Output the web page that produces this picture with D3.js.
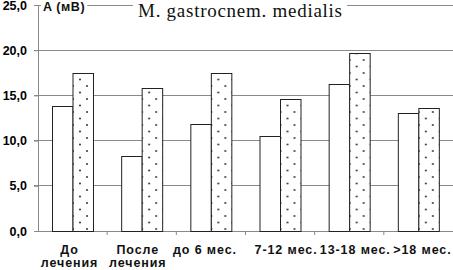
<!DOCTYPE html>
<html>
<head>
<meta charset="utf-8">
<script src="https://cdn.jsdelivr.net/npm/d3@7"></script>
<style>
  body { margin: 0; background: #fff; }
  svg { display: block; }
  .tick text { font-family: Arial, "Liberation Sans", sans-serif; font-weight: bold; fill: #000; }
</style>
</head>
<body>
<svg id="chart"></svg>
<script>
// categories (second line after "|")
const categories = ['До|лечения', 'После|лечения', 'до 6 мес.', '7-12 мес.', '13-18 мес.', '>18 мес.'];
const seriesNames = ['s1', 's2'];
const valuesPlain = [13.8, 8.3, 11.8, 10.5, 16.3, 13.0];
const valuesDotted = [17.5, 15.8, 17.5, 14.6, 19.7, 13.6];
const yTicks = [0, 5, 10, 15, 20, 25];
const yLabel = 'A (мВ)';
const title = 'M. gastrocnem. medialis';

const width = 453, height = 270;
const margin = {top: 5, right: 0, bottom: 39, left: 38};
const innerW = width - margin.left - margin.right;
const innerH = height - margin.top - margin.bottom;

const svg = d3.select('#chart').attr('width', width).attr('height', height);

// dot fill for second series
const defs = svg.append('defs');
const pat = defs.append('pattern')
    .attr('id', 'dots')
    .attr('patternUnits', 'userSpaceOnUse')
    .attr('width', 14).attr('height', 13);
pat.append('rect').attr('width', 14).attr('height', 13).attr('fill', '#fff');
pat.append('circle').attr('cx', 7).attr('cy', 3).attr('r', 1.1).attr('fill', '#444');
pat.append('circle').attr('cx', 0).attr('cy', 9.5).attr('r', 1.1).attr('fill', '#444');
pat.append('circle').attr('cx', 14).attr('cy', 9.5).attr('r', 1.1).attr('fill', '#444');

const chart = svg.append('g').attr('transform', `translate(${margin.left},${margin.top})`);

const x0 = d3.scaleBand().domain(categories).range([0, innerW]).padding(0);
const x1 = d3.scaleBand().domain(seriesNames).range([14, 55]).padding(0);
const y = d3.scaleLinear().domain([0, 25]).range([innerH, 0]);

// gridlines
chart.append('g')
  .selectAll('line')
  .data(yTicks.filter(d => d > 0))
  .join('line')
    .attr('x1', -4).attr('x2', innerW)
    .attr('y1', d => y(d)).attr('y2', d => y(d))
    .attr('stroke', '#8a8a8a').attr('stroke-width', 1)
    .attr('shape-rendering', 'crispEdges');

// y axis
const yAxis = d3.axisLeft(y).tickValues(yTicks).tickSize(4).tickPadding(7)
    .tickFormat(d => d3.format('.1f')(d).replace('.', ','));
const yG = chart.append('g').call(yAxis);
yG.select('.domain').attr('stroke', '#8a8a8a');
yG.selectAll('.tick line').attr('stroke', '#8a8a8a');
yG.selectAll('.tick text').style('font-size', '12.5px');

// x axis: ticks at band edges
const xG = chart.append('g').attr('transform', `translate(0,${innerH})`);
xG.append('line').attr('x1', -4).attr('x2', innerW).attr('y1', 0).attr('y2', 0)
  .attr('stroke', '#8a8a8a').attr('shape-rendering', 'crispEdges');
xG.selectAll('.edge')
  .data(categories.slice(1))
  .join('line')
    .attr('class', 'edge')
    .attr('x1', d => x0(d)).attr('x2', d => x0(d))
    .attr('y1', 0).attr('y2', 4)
    .attr('stroke', '#8a8a8a');

const labelShift = [-3, -4, -6, 6, 6, 4];
const labels = xG.selectAll('.xl')
  .data(categories)
  .join('text')
    .attr('class', 'xl')
    .attr('x', (d, i) => x0(d) + x0.bandwidth() / 2 + labelShift[i])
    .attr('y', 23)
    .attr('text-anchor', 'middle')
    .style('font-family', 'Arial, "Liberation Sans", sans-serif')
    .style('font-weight', 'bold')
    .style('font-size', '12.5px')
    .style('letter-spacing', '0.9px')
    .attr('fill', '#111');
labels.each(function(d) {
  const parts = d.split('|');
  d3.select(this).selectAll('tspan')
    .data(parts)
    .join('tspan')
      .attr('x', d3.select(this).attr('x'))
      .attr('dy', (p, j) => j === 0 ? 0 : 13)
      .text(p => p);
});

// bars
const rows = categories.map((c, i) => ({cat: c, vals: [valuesPlain[i], valuesDotted[i]]}));
const groups = chart.selectAll('.grp')
  .data(rows)
  .join('g')
    .attr('class', 'grp')
    .attr('transform', d => `translate(${x0(d.cat)},0)`);
groups.selectAll('rect')
  .data(d => d.vals.map((v, j) => ({s: seriesNames[j], v})))
  .join('rect')
    .attr('x', d => x1(d.s) + 0.5)
    .attr('width', x1.bandwidth())
    .attr('y', d => Math.round(y(d.v)) + 0.5)
    .attr('height', d => innerH - Math.round(y(d.v)))
    .attr('fill', d => d.s === 's1' ? '#fff' : 'url(#dots)')
    .attr('stroke', '#222')
    .attr('stroke-width', 1);

// y label and title sit on white patches over the top gridline
const bgG = chart.append('g');
const yl = chart.append('text')
    .attr('x', 5).attr('y', 6)
    .style('font-family', 'Arial, "Liberation Sans", sans-serif')
    .style('font-weight', 'bold').style('font-size', '12.5px')
    .style('letter-spacing', '0.6px')
    .attr('fill', '#111')
    .text(yLabel);
const bb = yl.node().getBBox();
bgG.append('rect')
    .attr('x', bb.x - 2).attr('y', bb.y).attr('width', bb.width + 4).attr('height', bb.height)
    .attr('fill', '#fff');

const tt = chart.append('text')
    .attr('x', 100).attr('y', 12)
    .attr('textLength', 204).attr('lengthAdjust', 'spacing')
    .style('font-family', '"Liberation Serif", "Times New Roman", serif')
    .style('font-size', '19px')
    .attr('fill', '#111')
    .text(title);
const tb = tt.node().getBBox();
bgG.append('rect')
    .attr('x', tb.x - 5).attr('y', tb.y).attr('width', tb.width + 10).attr('height', tb.height)
    .attr('fill', '#fff');
</script>
</body>
</html>
